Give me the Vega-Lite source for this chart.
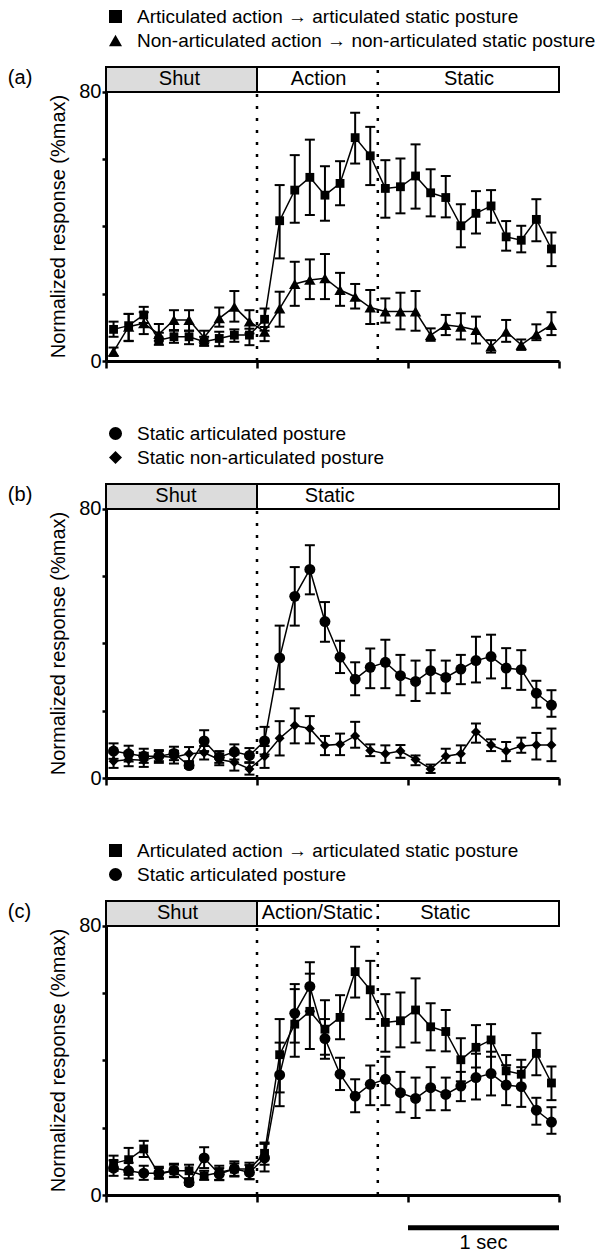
{
  "$schema": "https://vega.github.io/schema/vega-lite/v6.json",
  "padding": {"left": 7, "top": 7, "right": 5, "bottom": 2},
  "config": {
    "font": "Liberation Sans",
    "view": {"stroke": null},
    "axis": {"labelColor": "black", "titleColor": "black", "tickColor": "black", "domainColor": "black", "labelFont": "Liberation Sans", "titleFont": "Liberation Sans"},
    "legend": {"labelColor": "black", "labelFont": "Liberation Sans"},
    "text": {"font": "Liberation Sans", "color": "black"}
  },
  "datasets": {
    "one": [{"n": 1}],
    "ser": [
      {"s":"A","t":-950,"m":9.4,"lo":7.2,"hi":11.7},{"s":"A","t":-850,"m":10.5,"lo":6.0,"hi":14.0},{"s":"A","t":-750,"m":13.7,"lo":11.3,"hi":16.1},{"s":"A","t":-650,"m":6.2,"lo":4.8,"hi":8.4},{"s":"A","t":-550,"m":7.2,"lo":5.4,"hi":9.0},{"s":"A","t":-450,"m":7.2,"lo":5.0,"hi":9.0},{"s":"A","t":-350,"m":5.7,"lo":4.5,"hi":7.2},{"s":"A","t":-250,"m":6.7,"lo":4.4,"hi":8.7},{"s":"A","t":-150,"m":7.7,"lo":5.7,"hi":9.4},{"s":"A","t":-50,"m":7.7,"lo":4.7,"hi":9.6},
      {"s":"A","t":50,"m":12.4,"lo":9.0,"hi":15.6},{"s":"A","t":150,"m":41.7,"lo":30.5,"hi":52.3},{"s":"A","t":250,"m":50.8,"lo":41.1,"hi":61.2},{"s":"A","t":350,"m":54.6,"lo":43.4,"hi":65.8},{"s":"A","t":450,"m":49.3,"lo":41.7,"hi":57.9},{"s":"A","t":550,"m":52.8,"lo":46.3,"hi":59.4},{"s":"A","t":650,"m":66.4,"lo":58.7,"hi":73.8},{"s":"A","t":750,"m":61.0,"lo":52.3,"hi":69.6},{"s":"A","t":850,"m":51.3,"lo":42.6,"hi":59.7},{"s":"A","t":950,"m":51.8,"lo":43.9,"hi":60.2},
      {"s":"A","t":1050,"m":55.0,"lo":45.3,"hi":64.4},{"s":"A","t":1150,"m":50.0,"lo":43.0,"hi":57.0},{"s":"A","t":1250,"m":48.6,"lo":42.7,"hi":55.0},{"s":"A","t":1350,"m":40.2,"lo":33.8,"hi":46.6},{"s":"A","t":1450,"m":43.9,"lo":37.9,"hi":50.5},{"s":"A","t":1550,"m":46.1,"lo":41.1,"hi":50.8},{"s":"A","t":1650,"m":36.9,"lo":32.8,"hi":41.6},{"s":"A","t":1750,"m":35.9,"lo":32.3,"hi":40.2},{"s":"A","t":1850,"m":42.1,"lo":35.6,"hi":48.1},{"s":"A","t":1950,"m":33.3,"lo":28.2,"hi":38.2},
      {"s":"B","t":-950,"m":2.8,"lo":1.5,"hi":4.0},{"s":"B","t":-850,"m":10.2,"lo":5.9,"hi":14.0},{"s":"B","t":-750,"m":11.2,"lo":8.0,"hi":14.5},{"s":"B","t":-650,"m":8.0,"lo":6.0,"hi":11.0},{"s":"B","t":-550,"m":12.2,"lo":9.2,"hi":15.1},{"s":"B","t":-450,"m":12.2,"lo":9.0,"hi":15.1},{"s":"B","t":-350,"m":7.0,"lo":5.2,"hi":9.0},{"s":"B","t":-250,"m":12.7,"lo":10.2,"hi":15.9},{"s":"B","t":-150,"m":16.1,"lo":11.7,"hi":20.8},{"s":"B","t":-50,"m":11.7,"lo":8.2,"hi":15.1},
      {"s":"B","t":50,"m":8.7,"lo":5.9,"hi":10.1},{"s":"B","t":150,"m":15.6,"lo":10.2,"hi":20.6},{"s":"B","t":250,"m":22.9,"lo":16.4,"hi":29.5},{"s":"B","t":350,"m":24.1,"lo":18.4,"hi":30.2},{"s":"B","t":450,"m":24.6,"lo":18.4,"hi":31.8},{"s":"B","t":550,"m":21.1,"lo":16.4,"hi":26.2},{"s":"B","t":650,"m":19.1,"lo":15.6,"hi":22.9},{"s":"B","t":750,"m":15.9,"lo":11.0,"hi":21.1},{"s":"B","t":850,"m":14.7,"lo":11.4,"hi":18.6},{"s":"B","t":950,"m":14.7,"lo":9.4,"hi":20.3},
      {"s":"B","t":1050,"m":14.7,"lo":9.0,"hi":20.8},{"s":"B","t":1150,"m":7.7,"lo":6.0,"hi":9.7},{"s":"B","t":1250,"m":10.7,"lo":7.7,"hi":13.7},{"s":"B","t":1350,"m":10.2,"lo":6.4,"hi":14.2},{"s":"B","t":1450,"m":9.2,"lo":5.2,"hi":13.2},{"s":"B","t":1550,"m":4.3,"lo":2.5,"hi":6.2},{"s":"B","t":1650,"m":8.7,"lo":5.7,"hi":12.2},{"s":"B","t":1750,"m":4.8,"lo":3.3,"hi":6.4},{"s":"B","t":1850,"m":8.0,"lo":6.2,"hi":10.9},{"s":"B","t":1950,"m":10.7,"lo":7.7,"hi":14.5},
      {"s":"C","t":-950,"m":8.0,"lo":5.7,"hi":10.3},{"s":"C","t":-850,"m":7.2,"lo":4.9,"hi":9.6},{"s":"C","t":-750,"m":6.5,"lo":4.5,"hi":8.7},{"s":"C","t":-650,"m":6.5,"lo":5.0,"hi":8.0},{"s":"C","t":-550,"m":7.3,"lo":5.3,"hi":9.3},{"s":"C","t":-450,"m":3.7,"lo":3.0,"hi":4.5},{"s":"C","t":-350,"m":11.0,"lo":8.0,"hi":14.2},{"s":"C","t":-250,"m":6.2,"lo":4.5,"hi":8.0},{"s":"C","t":-150,"m":7.8,"lo":5.5,"hi":10.0},{"s":"C","t":-50,"m":6.7,"lo":4.7,"hi":8.9},
      {"s":"C","t":50,"m":11.0,"lo":7.0,"hi":15.2},{"s":"C","t":150,"m":35.7,"lo":26.4,"hi":45.3},{"s":"C","t":250,"m":54.0,"lo":45.3,"hi":62.7},{"s":"C","t":350,"m":62.0,"lo":54.6,"hi":69.2},{"s":"C","t":450,"m":46.5,"lo":40.5,"hi":52.3},{"s":"C","t":550,"m":35.9,"lo":31.2,"hi":40.8},{"s":"C","t":650,"m":29.4,"lo":24.6,"hi":34.4},{"s":"C","t":750,"m":32.9,"lo":26.7,"hi":38.5},{"s":"C","t":850,"m":34.4,"lo":26.7,"hi":41.1},{"s":"C","t":950,"m":30.4,"lo":24.6,"hi":36.6},
      {"s":"C","t":1050,"m":28.7,"lo":22.9,"hi":34.9},{"s":"C","t":1150,"m":31.9,"lo":25.2,"hi":38.0},{"s":"C","t":1250,"m":29.9,"lo":25.2,"hi":34.9},{"s":"C","t":1350,"m":32.4,"lo":27.9,"hi":36.6},{"s":"C","t":1450,"m":34.9,"lo":28.4,"hi":42.0},{"s":"C","t":1550,"m":36.1,"lo":29.6,"hi":42.6},{"s":"C","t":1650,"m":32.7,"lo":26.7,"hi":38.6},{"s":"C","t":1750,"m":32.2,"lo":26.2,"hi":38.0},{"s":"C","t":1850,"m":25.2,"lo":20.9,"hi":28.9},{"s":"C","t":1950,"m":21.7,"lo":18.2,"hi":26.1},
      {"s":"D","t":-950,"m":5.0,"lo":3.0,"hi":7.5},{"s":"D","t":-850,"m":5.5,"lo":3.5,"hi":7.8},{"s":"D","t":-750,"m":5.3,"lo":3.3,"hi":7.5},{"s":"D","t":-650,"m":6.5,"lo":4.5,"hi":8.3},{"s":"D","t":-550,"m":6.2,"lo":4.3,"hi":8.1},{"s":"D","t":-450,"m":7.2,"lo":5.0,"hi":9.2},{"s":"D","t":-350,"m":7.5,"lo":5.5,"hi":9.5},{"s":"D","t":-250,"m":5.5,"lo":3.8,"hi":7.3},{"s":"D","t":-150,"m":4.7,"lo":2.2,"hi":7.0},{"s":"D","t":-50,"m":2.7,"lo":1.0,"hi":4.5},
      {"s":"D","t":50,"m":6.5,"lo":3.0,"hi":9.5},{"s":"D","t":150,"m":11.8,"lo":6.7,"hi":16.9},{"s":"D","t":250,"m":15.6,"lo":10.3,"hi":20.7},{"s":"D","t":350,"m":14.7,"lo":10.3,"hi":18.4},{"s":"D","t":450,"m":9.7,"lo":6.8,"hi":12.5},{"s":"D","t":550,"m":10.0,"lo":6.8,"hi":13.2},{"s":"D","t":650,"m":12.5,"lo":9.0,"hi":16.7},{"s":"D","t":750,"m":8.2,"lo":6.5,"hi":10.0},{"s":"D","t":850,"m":7.2,"lo":4.5,"hi":9.7},{"s":"D","t":950,"m":8.0,"lo":6.0,"hi":9.8},
      {"s":"D","t":1050,"m":5.5,"lo":3.8,"hi":6.7},{"s":"D","t":1150,"m":2.7,"lo":1.5,"hi":4.0},{"s":"D","t":1250,"m":6.5,"lo":4.5,"hi":8.7},{"s":"D","t":1350,"m":7.2,"lo":4.5,"hi":9.7},{"s":"D","t":1450,"m":13.7,"lo":10.5,"hi":16.2},{"s":"D","t":1550,"m":9.8,"lo":8.0,"hi":11.5},{"s":"D","t":1650,"m":8.0,"lo":5.0,"hi":10.7},{"s":"D","t":1750,"m":9.5,"lo":7.5,"hi":12.0},{"s":"D","t":1850,"m":9.8,"lo":5.5,"hi":13.4},{"s":"D","t":1950,"m":9.8,"lo":5.0,"hi":14.7}
    ],
    "hdr": [
      {"p":"a","k":"shut","t":-1000,"t2":0},{"p":"a","k":"open","t":0,"t2":2000},
      {"p":"b","k":"shut","t":-1000,"t2":0},{"p":"b","k":"open","t":0,"t2":2000},
      {"p":"c","k":"shut","t":-1000,"t2":0},{"p":"c","k":"open","t":0,"t2":2000}
    ],
    "lab": [
      {"p":"a","label":"Shut","t":-514},{"p":"a","label":"Action","t":408},{"p":"a","label":"Static","t":1404},
      {"p":"b","label":"Shut","t":-537},{"p":"b","label":"Static","t":482},
      {"p":"c","label":"Shut","t":-526},{"p":"c","label":"Action/Static","t":399},{"p":"c","label":"Static","t":1246}
    ]
  },
  "resolve": {"scale": {"x": "independent", "y": "independent", "shape": "independent", "fill": "independent"}, "legend": {"shape": "independent"}},
  "spacing": 53,
  "vconcat": [
    {
      "width": 453, "height": 294,
      "layer": [
        {"data": {"name": "hdr"}, "transform": [{"filter": "datum.p=='a'"}], "mark": {"type": "rect", "stroke": "black", "strokeWidth": 2}, "encoding": {"x": {"field": "t", "type": "quantitative", "scale": {"domain": [-1000, 2000], "nice": false, "zero": false}}, "x2": {"field": "t2"}, "y": {"datum": 80, "type": "quantitative", "scale": {"domain": [0, 87.4], "nice": false, "zero": false}}, "y2": {"datum": 87.4}, "fill": {"field": "k", "type": "nominal", "scale": {"domain": ["shut", "open"], "range": ["#dcdcdc", "#ffffff"]}, "legend": null}}},
        {"data": {"name": "lab"}, "transform": [{"filter": "datum.p=='a'"}], "mark": {"type": "text", "fontSize": 20, "baseline": "middle", "color": "black"}, "encoding": {"x": {"field": "t", "type": "quantitative", "scale": {"domain": [-1000, 2000], "nice": false, "zero": false}}, "y": {"datum": 83.7, "type": "quantitative", "scale": {"domain": [0, 87.4], "nice": false, "zero": false}}, "text": {"field": "label"}}},
        {"data": {"name": "one"}, "mark": {"type": "rule", "strokeDash": [3, 9], "strokeWidth": 2.5, "color": "black"}, "encoding": {"x": {"datum": 0, "type": "quantitative", "scale": {"domain": [-1000, 2000], "nice": false, "zero": false}}, "y": {"datum": 0, "type": "quantitative", "scale": {"domain": [0, 87.4], "nice": false, "zero": false}}, "y2": {"datum": 80}}},
        {"data": {"name": "one"}, "mark": {"type": "rule", "strokeDash": [3, 9], "strokeWidth": 2.5, "color": "black"}, "encoding": {"x": {"datum": 800, "type": "quantitative", "scale": {"domain": [-1000, 2000], "nice": false, "zero": false}}, "y": {"datum": 0, "type": "quantitative", "scale": {"domain": [0, 87.4], "nice": false, "zero": false}}, "y2": {"datum": 87.4}}},
        {"data": {"name": "one"}, "mark": {"type": "text", "text": "(a)", "fontSize": 20, "align": "left", "baseline": "middle", "color": "black"}, "encoding": {"x": {"datum": -1650, "type": "quantitative", "scale": {"domain": [-1000, 2000], "nice": false, "zero": false}}, "y": {"datum": 84, "type": "quantitative", "scale": {"domain": [0, 87.4], "nice": false, "zero": false}}}},
        {"data": {"name": "ser"}, "transform": [{"filter": {"field": "s", "oneOf": ["A", "B"]}}],
          "layer": [
            {"mark": {"type": "line", "color": "black", "strokeWidth": 1.5}, "encoding": {"x": {"field": "t", "type": "quantitative", "scale": {"domain": [-1000, 2000], "nice": false, "zero": false}, "axis": {"values": [-1000, 0, 1000, 2000], "labels": false, "title": null, "tickSize": 7, "tickWidth": 2.5, "domainWidth": 3, "grid": false}}, "y": {"field": "m", "type": "quantitative", "scale": {"domain": [0, 87.4], "nice": false, "zero": false}, "axis": {"values": [0, 10, 20, 30, 40, 50, 60, 70, 80], "labelExpr": "datum.value==0||datum.value==80?datum.label:''", "title": "Normalized response (%max)", "titleFontSize": 20, "titleFontWeight": "normal", "titleY": 159, "titlePadding": 10, "labelFontSize": 20, "labelPadding": 1, "tickSize": 4, "tickWidth": 2.5, "domainWidth": 3, "grid": false}}, "detail": {"field": "s"}}},
            {"mark": {"type": "rule", "color": "black", "strokeWidth": 2}, "encoding": {"x": {"field": "t", "type": "quantitative", "scale": {"domain": [-1000, 2000], "nice": false, "zero": false}}, "y": {"field": "lo", "type": "quantitative", "scale": {"domain": [0, 87.4], "nice": false, "zero": false}}, "y2": {"field": "hi"}}},
            {"mark": {"type": "tick", "orient": "horizontal", "size": 10, "thickness": 2, "color": "black", "opacity": 1}, "encoding": {"x": {"field": "t", "type": "quantitative", "scale": {"domain": [-1000, 2000], "nice": false, "zero": false}}, "y": {"field": "hi", "type": "quantitative", "scale": {"domain": [0, 87.4], "nice": false, "zero": false}}}},
            {"mark": {"type": "tick", "orient": "horizontal", "size": 10, "thickness": 2, "color": "black", "opacity": 1}, "encoding": {"x": {"field": "t", "type": "quantitative", "scale": {"domain": [-1000, 2000], "nice": false, "zero": false}}, "y": {"field": "lo", "type": "quantitative", "scale": {"domain": [0, 87.4], "nice": false, "zero": false}}}},
            {"transform": [{"filter": "datum.s=='A'"}], "mark": {"type": "point", "filled": true, "color": "black", "opacity": 1, "size": 78}, "encoding": {"x": {"field": "t", "type": "quantitative", "scale": {"domain": [-1000, 2000], "nice": false, "zero": false}}, "y": {"field": "m", "type": "quantitative", "scale": {"domain": [0, 87.4], "nice": false, "zero": false}}, "shape": {"field": "s", "type": "nominal", "scale": {"domain": ["A", "B"], "range": ["square", "triangle-up"]}, "legend": {"orient": "top", "offset": 16, "title": null, "direction": "vertical", "padding": 0, "labelFontSize": 19, "labelLimit": 700, "labelOffset": 12, "symbolSize": 170, "rowPadding": 4, "symbolFillColor": "black", "symbolStrokeWidth": 0, "encode": {"symbols": {"update": {"size": {"value": 170}}}}, "labelExpr": "datum.label=='A'?'Articulated action → articulated static posture':'Non-articulated action → non-articulated static posture'"}}}},
            {"transform": [{"filter": "datum.s=='B'"}], "mark": {"type": "point", "filled": true, "color": "black", "opacity": 1, "size": 130}, "encoding": {"x": {"field": "t", "type": "quantitative", "scale": {"domain": [-1000, 2000], "nice": false, "zero": false}}, "y": {"field": "m", "type": "quantitative", "scale": {"domain": [0, 87.4], "nice": false, "zero": false}}, "shape": {"field": "s", "type": "nominal", "scale": {"domain": ["A", "B"], "range": ["square", "triangle-up"]}, "legend": {"orient": "top", "offset": 16, "title": null, "direction": "vertical", "padding": 0, "labelFontSize": 19, "labelLimit": 700, "labelOffset": 12, "symbolSize": 170, "rowPadding": 4, "symbolFillColor": "black", "symbolStrokeWidth": 0, "encode": {"symbols": {"update": {"size": {"value": 170}}}}, "labelExpr": "datum.label=='A'?'Articulated action → articulated static posture':'Non-articulated action → non-articulated static posture'"}}}}
          ]
        }
      ]
    },
    {
      "width": 453, "height": 294,
      "layer": [
        {"data": {"name": "hdr"}, "transform": [{"filter": "datum.p=='b'"}], "mark": {"type": "rect", "stroke": "black", "strokeWidth": 2}, "encoding": {"x": {"field": "t", "type": "quantitative", "scale": {"domain": [-1000, 2000], "nice": false, "zero": false}}, "x2": {"field": "t2"}, "y": {"datum": 80, "type": "quantitative", "scale": {"domain": [0, 87.4], "nice": false, "zero": false}}, "y2": {"datum": 87.4}, "fill": {"field": "k", "type": "nominal", "scale": {"domain": ["shut", "open"], "range": ["#dcdcdc", "#ffffff"]}, "legend": null}}},
        {"data": {"name": "lab"}, "transform": [{"filter": "datum.p=='b'"}], "mark": {"type": "text", "fontSize": 20, "baseline": "middle", "color": "black"}, "encoding": {"x": {"field": "t", "type": "quantitative", "scale": {"domain": [-1000, 2000], "nice": false, "zero": false}}, "y": {"datum": 83.7, "type": "quantitative", "scale": {"domain": [0, 87.4], "nice": false, "zero": false}}, "text": {"field": "label"}}},
        {"data": {"name": "one"}, "mark": {"type": "rule", "strokeDash": [3, 9], "strokeWidth": 2.5, "color": "black"}, "encoding": {"x": {"datum": 0, "type": "quantitative", "scale": {"domain": [-1000, 2000], "nice": false, "zero": false}}, "y": {"datum": 0, "type": "quantitative", "scale": {"domain": [0, 87.4], "nice": false, "zero": false}}, "y2": {"datum": 80}}},
        {"data": {"name": "one"}, "mark": {"type": "text", "text": "(b)", "fontSize": 20, "align": "left", "baseline": "middle", "color": "black"}, "encoding": {"x": {"datum": -1650, "type": "quantitative", "scale": {"domain": [-1000, 2000], "nice": false, "zero": false}}, "y": {"datum": 84, "type": "quantitative", "scale": {"domain": [0, 87.4], "nice": false, "zero": false}}}},
        {"data": {"name": "ser"}, "transform": [{"filter": {"field": "s", "oneOf": ["C", "D"]}}],
          "layer": [
            {"mark": {"type": "line", "color": "black", "strokeWidth": 1.5}, "encoding": {"x": {"field": "t", "type": "quantitative", "scale": {"domain": [-1000, 2000], "nice": false, "zero": false}, "axis": {"values": [-1000, 0, 1000, 2000], "labels": false, "title": null, "tickSize": 7, "tickWidth": 2.5, "domainWidth": 3, "grid": false}}, "y": {"field": "m", "type": "quantitative", "scale": {"domain": [0, 87.4], "nice": false, "zero": false}, "axis": {"values": [0, 10, 20, 30, 40, 50, 60, 70, 80], "labelExpr": "datum.value==0||datum.value==80?datum.label:''", "title": "Normalized response (%max)", "titleFontSize": 20, "titleFontWeight": "normal", "titleY": 159, "titlePadding": 10, "labelFontSize": 20, "labelPadding": 1, "tickSize": 4, "tickWidth": 2.5, "domainWidth": 3, "grid": false}}, "detail": {"field": "s"}}},
            {"mark": {"type": "rule", "color": "black", "strokeWidth": 2}, "encoding": {"x": {"field": "t", "type": "quantitative", "scale": {"domain": [-1000, 2000], "nice": false, "zero": false}}, "y": {"field": "lo", "type": "quantitative", "scale": {"domain": [0, 87.4], "nice": false, "zero": false}}, "y2": {"field": "hi"}}},
            {"mark": {"type": "tick", "orient": "horizontal", "size": 10, "thickness": 2, "color": "black", "opacity": 1}, "encoding": {"x": {"field": "t", "type": "quantitative", "scale": {"domain": [-1000, 2000], "nice": false, "zero": false}}, "y": {"field": "hi", "type": "quantitative", "scale": {"domain": [0, 87.4], "nice": false, "zero": false}}}},
            {"mark": {"type": "tick", "orient": "horizontal", "size": 10, "thickness": 2, "color": "black", "opacity": 1}, "encoding": {"x": {"field": "t", "type": "quantitative", "scale": {"domain": [-1000, 2000], "nice": false, "zero": false}}, "y": {"field": "lo", "type": "quantitative", "scale": {"domain": [0, 87.4], "nice": false, "zero": false}}}},
            {"transform": [{"filter": "datum.s=='C'"}], "mark": {"type": "point", "filled": true, "color": "black", "opacity": 1, "size": 120}, "encoding": {"x": {"field": "t", "type": "quantitative", "scale": {"domain": [-1000, 2000], "nice": false, "zero": false}}, "y": {"field": "m", "type": "quantitative", "scale": {"domain": [0, 87.4], "nice": false, "zero": false}}, "shape": {"field": "s", "type": "nominal", "scale": {"domain": ["C", "D"], "range": ["circle", "diamond"]}, "legend": {"orient": "top", "offset": 16, "title": null, "direction": "vertical", "padding": 0, "labelFontSize": 19, "labelLimit": 700, "labelOffset": 12, "symbolSize": 170, "rowPadding": 4, "symbolFillColor": "black", "symbolStrokeWidth": 0, "encode": {"symbols": {"update": {"size": {"value": 170}}}}, "labelExpr": "datum.label=='C'?'Static articulated posture':'Static non-articulated posture'"}}}},
            {"transform": [{"filter": "datum.s=='D'"}], "mark": {"type": "point", "filled": true, "color": "black", "opacity": 1, "size": 100}, "encoding": {"x": {"field": "t", "type": "quantitative", "scale": {"domain": [-1000, 2000], "nice": false, "zero": false}}, "y": {"field": "m", "type": "quantitative", "scale": {"domain": [0, 87.4], "nice": false, "zero": false}}, "shape": {"field": "s", "type": "nominal", "scale": {"domain": ["C", "D"], "range": ["circle", "diamond"]}, "legend": {"orient": "top", "offset": 16, "title": null, "direction": "vertical", "padding": 0, "labelFontSize": 19, "labelLimit": 700, "labelOffset": 12, "symbolSize": 170, "rowPadding": 4, "symbolFillColor": "black", "symbolStrokeWidth": 0, "encode": {"symbols": {"update": {"size": {"value": 170}}}}, "labelExpr": "datum.label=='C'?'Static articulated posture':'Static non-articulated posture'"}}}}
          ]
        }
      ]
    },
    {
      "width": 453, "height": 294,
      "layer": [
        {"data": {"name": "hdr"}, "transform": [{"filter": "datum.p=='c'"}], "mark": {"type": "rect", "stroke": "black", "strokeWidth": 2}, "encoding": {"x": {"field": "t", "type": "quantitative", "scale": {"domain": [-1000, 2000], "nice": false, "zero": false}}, "x2": {"field": "t2"}, "y": {"datum": 80, "type": "quantitative", "scale": {"domain": [0, 87.4], "nice": false, "zero": false}}, "y2": {"datum": 87.4}, "fill": {"field": "k", "type": "nominal", "scale": {"domain": ["shut", "open"], "range": ["#dcdcdc", "#ffffff"]}, "legend": null}}},
        {"data": {"name": "lab"}, "transform": [{"filter": "datum.p=='c'"}], "mark": {"type": "text", "fontSize": 20, "baseline": "middle", "color": "black"}, "encoding": {"x": {"field": "t", "type": "quantitative", "scale": {"domain": [-1000, 2000], "nice": false, "zero": false}}, "y": {"datum": 83.7, "type": "quantitative", "scale": {"domain": [0, 87.4], "nice": false, "zero": false}}, "text": {"field": "label"}}},
        {"data": {"name": "one"}, "mark": {"type": "rule", "strokeDash": [3, 9], "strokeWidth": 2.5, "color": "black"}, "encoding": {"x": {"datum": 0, "type": "quantitative", "scale": {"domain": [-1000, 2000], "nice": false, "zero": false}}, "y": {"datum": 0, "type": "quantitative", "scale": {"domain": [0, 87.4], "nice": false, "zero": false}}, "y2": {"datum": 80}}},
        {"data": {"name": "one"}, "mark": {"type": "rule", "strokeDash": [3, 9], "strokeWidth": 2.5, "color": "black"}, "encoding": {"x": {"datum": 800, "type": "quantitative", "scale": {"domain": [-1000, 2000], "nice": false, "zero": false}}, "y": {"datum": 0, "type": "quantitative", "scale": {"domain": [0, 87.4], "nice": false, "zero": false}}, "y2": {"datum": 87.4}}},
        {"data": {"name": "one"}, "mark": {"type": "text", "text": "(c)", "fontSize": 20, "align": "left", "baseline": "middle", "color": "black"}, "encoding": {"x": {"datum": -1650, "type": "quantitative", "scale": {"domain": [-1000, 2000], "nice": false, "zero": false}}, "y": {"datum": 84, "type": "quantitative", "scale": {"domain": [0, 87.4], "nice": false, "zero": false}}}},
        {"data": {"name": "one"}, "mark": {"type": "rule", "strokeWidth": 5, "color": "black"}, "encoding": {"x": {"datum": 1000, "type": "quantitative", "scale": {"domain": [-1000, 2000], "nice": false, "zero": false}}, "x2": {"datum": 2000}, "y": {"datum": -9.7, "type": "quantitative", "scale": {"domain": [0, 87.4], "nice": false, "zero": false}}}},
        {"data": {"name": "one"}, "mark": {"type": "text", "text": "1 sec", "fontSize": 20, "align": "center", "baseline": "middle", "color": "black"}, "encoding": {"x": {"datum": 1500, "type": "quantitative", "scale": {"domain": [-1000, 2000], "nice": false, "zero": false}}, "y": {"datum": -14.2, "type": "quantitative", "scale": {"domain": [0, 87.4], "nice": false, "zero": false}}}},
        {"data": {"name": "ser"}, "transform": [{"filter": {"field": "s", "oneOf": ["A", "C"]}}],
          "layer": [
            {"mark": {"type": "line", "color": "black", "strokeWidth": 1.5}, "encoding": {"x": {"field": "t", "type": "quantitative", "scale": {"domain": [-1000, 2000], "nice": false, "zero": false}, "axis": {"values": [-1000, 0, 1000, 2000], "labels": false, "title": null, "tickSize": 7, "tickWidth": 2.5, "domainWidth": 3, "grid": false}}, "y": {"field": "m", "type": "quantitative", "scale": {"domain": [0, 87.4], "nice": false, "zero": false}, "axis": {"values": [0, 10, 20, 30, 40, 50, 60, 70, 80], "labelExpr": "datum.value==0||datum.value==80?datum.label:''", "title": "Normalized response (%max)", "titleFontSize": 20, "titleFontWeight": "normal", "titleY": 159, "titlePadding": 10, "labelFontSize": 20, "labelPadding": 1, "tickSize": 4, "tickWidth": 2.5, "domainWidth": 3, "grid": false}}, "detail": {"field": "s"}}},
            {"mark": {"type": "rule", "color": "black", "strokeWidth": 2}, "encoding": {"x": {"field": "t", "type": "quantitative", "scale": {"domain": [-1000, 2000], "nice": false, "zero": false}}, "y": {"field": "lo", "type": "quantitative", "scale": {"domain": [0, 87.4], "nice": false, "zero": false}}, "y2": {"field": "hi"}}},
            {"mark": {"type": "tick", "orient": "horizontal", "size": 10, "thickness": 2, "color": "black", "opacity": 1}, "encoding": {"x": {"field": "t", "type": "quantitative", "scale": {"domain": [-1000, 2000], "nice": false, "zero": false}}, "y": {"field": "hi", "type": "quantitative", "scale": {"domain": [0, 87.4], "nice": false, "zero": false}}}},
            {"mark": {"type": "tick", "orient": "horizontal", "size": 10, "thickness": 2, "color": "black", "opacity": 1}, "encoding": {"x": {"field": "t", "type": "quantitative", "scale": {"domain": [-1000, 2000], "nice": false, "zero": false}}, "y": {"field": "lo", "type": "quantitative", "scale": {"domain": [0, 87.4], "nice": false, "zero": false}}}},
            {"transform": [{"filter": "datum.s=='A'"}], "mark": {"type": "point", "filled": true, "color": "black", "opacity": 1, "size": 78}, "encoding": {"x": {"field": "t", "type": "quantitative", "scale": {"domain": [-1000, 2000], "nice": false, "zero": false}}, "y": {"field": "m", "type": "quantitative", "scale": {"domain": [0, 87.4], "nice": false, "zero": false}}, "shape": {"field": "s", "type": "nominal", "scale": {"domain": ["A", "C"], "range": ["square", "circle"]}, "legend": {"orient": "top", "offset": 16, "title": null, "direction": "vertical", "padding": 0, "labelFontSize": 19, "labelLimit": 700, "labelOffset": 12, "symbolSize": 170, "rowPadding": 4, "symbolFillColor": "black", "symbolStrokeWidth": 0, "encode": {"symbols": {"update": {"size": {"value": 170}}}}, "labelExpr": "datum.label=='A'?'Articulated action → articulated static posture':'Static articulated posture'"}}}},
            {"transform": [{"filter": "datum.s=='C'"}], "mark": {"type": "point", "filled": true, "color": "black", "opacity": 1, "size": 120}, "encoding": {"x": {"field": "t", "type": "quantitative", "scale": {"domain": [-1000, 2000], "nice": false, "zero": false}}, "y": {"field": "m", "type": "quantitative", "scale": {"domain": [0, 87.4], "nice": false, "zero": false}}, "shape": {"field": "s", "type": "nominal", "scale": {"domain": ["A", "C"], "range": ["square", "circle"]}, "legend": {"orient": "top", "offset": 16, "title": null, "direction": "vertical", "padding": 0, "labelFontSize": 19, "labelLimit": 700, "labelOffset": 12, "symbolSize": 170, "rowPadding": 4, "symbolFillColor": "black", "symbolStrokeWidth": 0, "encode": {"symbols": {"update": {"size": {"value": 170}}}}, "labelExpr": "datum.label=='A'?'Articulated action → articulated static posture':'Static articulated posture'"}}}}
          ]
        }
      ]
    }
  ]
}
